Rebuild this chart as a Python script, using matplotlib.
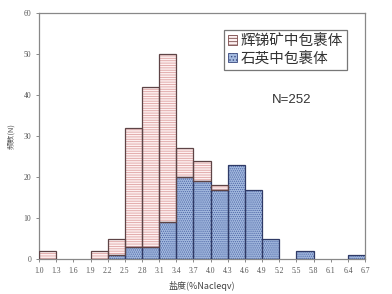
import matplotlib
matplotlib.use("Agg")
import matplotlib.pyplot as plt
from matplotlib.patches import Patch

bin_left = [1.0, 1.3, 1.6, 1.9, 2.2, 2.5, 2.8, 3.1, 3.4, 3.7, 4.0, 4.3, 4.6, 4.9, 5.2, 5.5, 5.8, 6.1, 6.4]
quartz = [0, 0, 0, 0, 1, 3, 3, 9, 20, 19, 17, 23, 17, 5, 0, 2, 0, 0, 1]
stibnite = [2, 0, 0, 2, 4, 29, 39, 41, 7, 5, 1, 0, 0, 0, 0, 0, 0, 0, 0]
xticks = [1.0, 1.3, 1.6, 1.9, 2.2, 2.5, 2.8, 3.1, 3.4, 3.7, 4.0, 4.3, 4.6, 4.9, 5.2, 5.5, 5.8, 6.1, 6.4, 6.7]
yticks = [0, 10, 20, 30, 40, 50, 60]
legend_labels = ["辉锑矿中包裹体", "石英中包裹体"]

plt.rcParams['hatch.linewidth'] = 0.6
cjk = ['Noto Sans CJK SC', 'DejaVu Sans']

fig = plt.figure(figsize=(3.92, 2.94), dpi=100)
ax = fig.add_axes([0.0995, 0.118, 0.832, 0.838])

w = 0.3
# quartz (bottom)
qi = [i for i, v in enumerate(quartz) if v > 0]
ax.bar([bin_left[i] for i in qi], [quartz[i] for i in qi], width=w, align='edge',
       color='#a4badf', edgecolor='#4d66a6', hatch='........', linewidth=0, zorder=2)
ax.bar([bin_left[i] for i in qi], [quartz[i] for i in qi], width=w, align='edge',
       fill=False, edgecolor='#2f3a66', linewidth=0.9, zorder=3)
# stibnite (stacked on top)
si = [i for i, v in enumerate(stibnite) if v > 0]
ax.bar([bin_left[i] for i in si], [stibnite[i] for i in si], width=w, align='edge',
       bottom=[quartz[i] for i in si],
       color='#fdf0f0', edgecolor='#dea2a2', hatch='-------', linewidth=0, zorder=2)
ax.bar([bin_left[i] for i in si], [stibnite[i] for i in si], width=w, align='edge',
       bottom=[quartz[i] for i in si],
       fill=False, edgecolor='#5e4446', linewidth=0.9, zorder=3)

ax.set_xlim(1.0, 6.7)
ax.set_ylim(0, 60)
ax.set_xticks(xticks)
ax.set_xticklabels([f"{t:.1f}" for t in xticks], family='Liberation Serif', fontsize=5.5, color='#555555')
ax.set_yticks(yticks)
ax.set_yticklabels([str(t) for t in yticks], family='Liberation Serif', fontsize=5.5, color='#555555')
ax.tick_params(axis='both', length=2.5, width=0.6, color='#777777', pad=3)
for s in ax.spines.values():
    s.set_color('#888888')
    s.set_linewidth(0.9)

ax.set_xlabel("盐度(%Nacleqv)", family=cjk, fontsize=6.5, color='#444444', labelpad=4)
ax.set_ylabel("频数(N)", family=cjk, fontsize=5.5, color='#555555', labelpad=6)

handles = [Patch(facecolor='#fdf0f0', edgecolor='#7a4a4a', hatch='-----', linewidth=0.6),
           Patch(facecolor='#a4badf', edgecolor='#3a4a80', hatch='.....', linewidth=0.6)]
leg = ax.legend(handles, legend_labels, loc='upper right', bbox_to_anchor=(0.945, 0.932),
                prop={'family': cjk, 'size': 10.5}, frameon=True, fancybox=False,
                handlelength=0.6, handleheight=0.6, handletextpad=0.25,
                borderpad=0.3, labelspacing=0.2, borderaxespad=0)
leg.get_frame().set_edgecolor('#555555')
leg.get_frame().set_linewidth(0.9)
for t in leg.get_texts():
    t.set_color('#333333')

ax.text(0.775, 0.647, "N=252", transform=ax.transAxes, ha='center', va='center',
        fontsize=9.5, family='Liberation Sans', color='#333333')

fig.savefig("out.png", dpi=100)
